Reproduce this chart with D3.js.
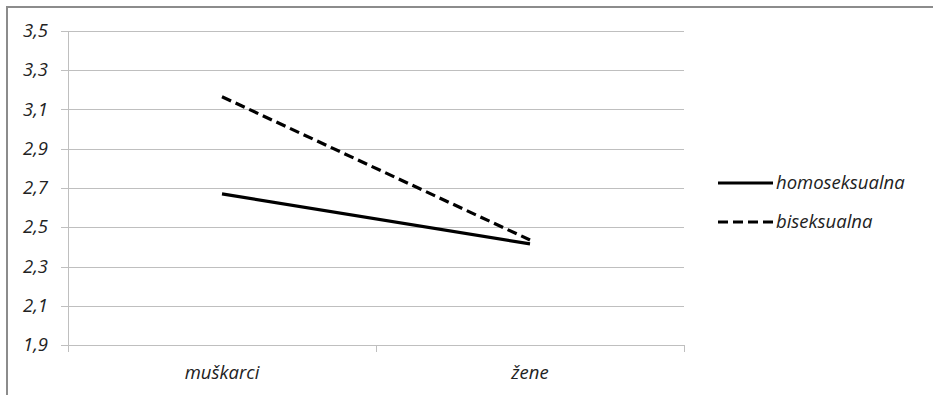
<!DOCTYPE html>
<html><head><meta charset="utf-8">
<script src="https://cdn.jsdelivr.net/npm/d3@7"></script>
<style>
body{margin:0;background:#fff;}
text{font-family:"Open Sans",sans-serif;font-style:italic;fill:#222;}
</style></head>
<body><svg id="c" width="933" height="395"></svg>
<script>
const categories = ["muškarci", "žene"];
const seriesNames = ["homoseksualna", "biseksualna"];
const homoseksualna = [2.67, 2.415];
const biseksualna = [3.165, 2.435];
const yTicks = [1.9, 2.1, 2.3, 2.5, 2.7, 2.9, 3.1, 3.3, 3.5];

const svg = d3.select("#c");
svg.append("path").attr("d","M7,395 V7 H933").attr("fill","none").attr("stroke","#8c8c8c").attr("stroke-width",2);

const L=68, R=684, T=31, B=345;
const x = d3.scaleBand().domain(categories).range([L,R]);
const y = d3.scaleLinear().domain([1.9,3.5]).range([B,T]);
const FS = 18.5;

svg.selectAll("line.grid").data(yTicks).join("line")
  .attr("x1",L-7).attr("x2",R).attr("y1",d=>Math.round(y(d))+0.5).attr("y2",d=>Math.round(y(d))+0.5)
  .attr("stroke","#bfbfbf").attr("stroke-width",1);
svg.append("line").attr("x1",L+0.5).attr("x2",L+0.5).attr("y1",T).attr("y2",B+7).attr("stroke","#bfbfbf");
const bounds = [L, L + x.bandwidth(), R];
svg.selectAll("line.xt").data(bounds).join("line")
  .attr("x1",d=>d+0.5).attr("x2",d=>d+0.5).attr("y1",B).attr("y2",B+7).attr("stroke","#bfbfbf");

svg.selectAll("text.yl").data(yTicks).join("text")
  .attr("x",48).attr("y",d=>y(d)+6).attr("text-anchor","end").attr("font-size",FS)
  .text(d=>d.toFixed(1).replace(".",","));
svg.selectAll("text.xl").data(categories).join("text")
  .attr("x",d=>x(d)+x.bandwidth()/2).attr("y",379).attr("text-anchor","middle").attr("font-size",FS)
  .text(d=>d);

const line = d3.line().x((d,i)=>x(categories[i])+x.bandwidth()/2).y(d=>y(d));
const series = [
  {name:seriesNames[0], values:homoseksualna, dash:null},
  {name:seriesNames[1], values:biseksualna, dash:"10,5"}
];
series.forEach(s=>{
  svg.append("path").attr("d",line(s.values)).attr("fill","none").attr("stroke","#000")
    .attr("stroke-width",3.2).attr("stroke-dasharray",s.dash);
});

const ly = [183, 222];
series.forEach((s,i)=>{
  svg.append("line").attr("x1",718).attr("x2",773).attr("y1",ly[i]).attr("y2",ly[i])
    .attr("stroke","#000").attr("stroke-width",3.2).attr("stroke-dasharray",s.dash);
  svg.append("text").attr("x",776).attr("y",ly[i]+6).attr("font-size",FS).text(s.name);
});
</script></body></html>
